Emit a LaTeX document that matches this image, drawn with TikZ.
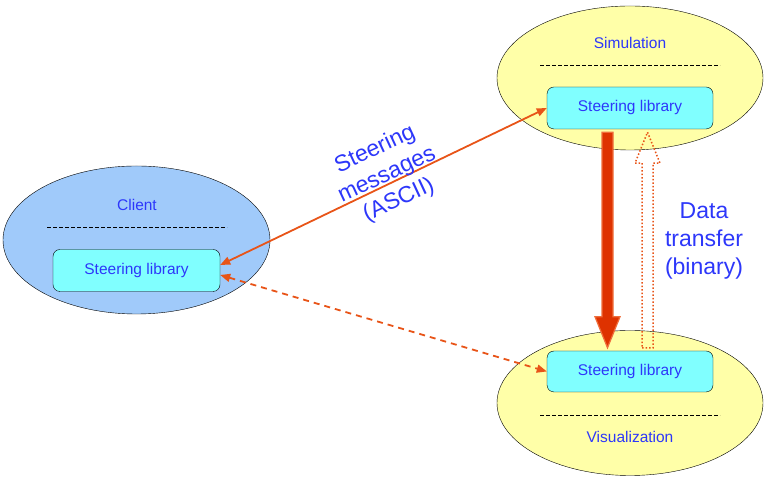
\documentclass[tikz,border=0pt]{standalone}
\usepackage{fontspec}
\setmainfont{Liberation Sans}
\usetikzlibrary{arrows.meta}
\usetikzlibrary{shapes.geometric}
\usetikzlibrary{positioning}
\usetikzlibrary{calc}
\definecolor{clientblue}{RGB}{160,202,250}
\definecolor{hostyellow}{RGB}{255,255,168}
\definecolor{libcyan}{RGB}{128,255,255}
\definecolor{textblue}{RGB}{45,55,250}
\definecolor{msgorange}{RGB}{232,84,24}
\definecolor{datared}{RGB}{222,50,0}
\definecolor{dataedge}{RGB}{240,110,60}
\tikzset {
  % one program of the set-up
  host/.style = {
    draw = black,
    ellipse,
    inner sep = 0,
    minimum width = 266pt,
    minimum height = 145pt,
    fill = hostyellow
  },
  % the steering library inside a program
  lib/.style = {
    draw = black,
    rectangle,
    rounded corners = 7pt,
    fill = libcyan,
    minimum width = 166pt,
    minimum height = 41pt,
    text = textblue,
    font = \fontsize{15.5}{18}\selectfont
  },
  title/.style = {
    text = textblue,
    font = \fontsize{15.5}{18}\selectfont
  },
  % big blue labels beside the connectors
  note/.style = {
    text = textblue,
    align = center,
    font = \fontsize{23}{28}\selectfont
  },
  sep/.style = {
    draw = black,
    line width = 0.7pt,
    dash pattern = on 3.5pt off 2.5pt
  }
}
\tikzset {
  % steering messages, both ways
  msg/.style = {
    draw = msgorange,
    line width = 1.8pt,
    arrows = {Triangle[length=10pt,width=8pt]-Triangle[length=10pt,width=8pt]}
  },
  % wide arrow drawn as an outline, #1 is the head length (signed)
  fat arrow/.style = {
    to path = {
      let \p1 = (\tikztostart), \p2 = (\tikztotarget) in
      (\x1-5.5pt,\y1) -- (\x1+5.5pt,\y1) -- (\x1+5.5pt,\y2+#1)
      -- (\x1+12.5pt,\y2+#1) -- (\x2,\y2) -- (\x1-12.5pt,\y2+#1)
      -- (\x1-5.5pt,\y2+#1) -- cycle
    }
  },
  data/.style = {
    fat arrow = #1,
    fill = datared,
    draw = dataedge,
    line width = 1.2pt,
    line join = miter
  },
  nodata/.style = {
    fat arrow = #1,
    draw = msgorange,
    line width = 1.5pt,
    dotted
  }
}

\begin{document}
\begin{tikzpicture}[x=1pt, y=1pt]
    \useasboundingbox (0,0) rectangle (766,481);

    \node[host, fill = clientblue, minimum width = 267pt, minimum height = 148pt] (client) at (136.5,241) {};
    \node[host, minimum height = 144pt] (sim) at (630,403) {};
    \node[host] (vis) at (630,78) {};

    \node[title] (client-title) at (137,276) {Client};
    \node[title] (sim-title) at (630,438) {Simulation};
    \node[title] (vis-title) at (630,44) {Visualization};

    \draw[sep] (47,254) -- (227,254);
    \draw[sep] (540,416) -- (720,416);
    \draw[sep] (540,66) -- (720,66);

    \node[lib, minimum width = 167pt, minimum height = 42pt] (client-lib) at (136.5,210.5) {Steering library};
    \node[lib, minimum height = 42pt] (sim-lib) at (630,373) {Steering library};
    \node[lib] (vis-lib) at (630,109.5) {Steering library};

    \draw[msg] ([yshift=5.5pt]client-lib.east) -- (sim-lib.west);
    \draw[msg, dash pattern = on 6pt off 5pt] ([yshift=-4.5pt]client-lib.east) -- (vis-lib.west);

    \coordinate (down-top) at ([xshift=-22.5pt,yshift=-3pt]sim-lib.south);
    \coordinate (down-tip) at ([xshift=-22.5pt,yshift=3pt]vis-lib.north);
    \coordinate (up-base) at ([xshift=17.5pt,yshift=3pt]vis-lib.north);
    \coordinate (up-tip) at ([xshift=17.5pt,yshift=-3pt]sim-lib.south);
    \draw[data = 31pt] (down-top) to (down-tip);
    \draw[nodata = -31pt] (up-base) to (up-tip);

    \node[note, rotate = 25] (msg-note) at (387,306) {Steering\\messages\\(ASCII)};
    \node[note] (data-note) at (704,240) {Data\\transfer\\(binary)};
  \end{tikzpicture}
\end{document}
